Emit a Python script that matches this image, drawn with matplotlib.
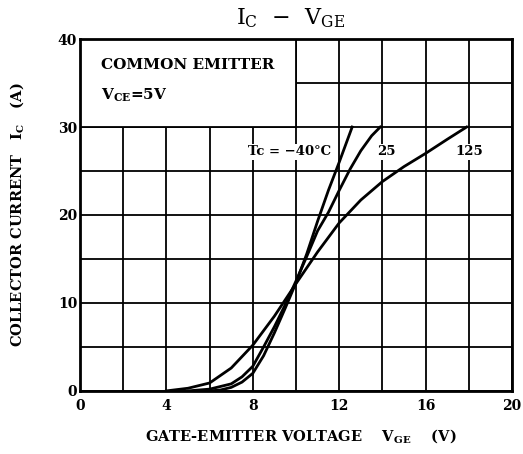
import matplotlib
matplotlib.use("Agg")
import matplotlib.pyplot as plt
from matplotlib.patches import Rectangle
from matplotlib.ticker import MultipleLocator

plt.rcParams['mathtext.fontset'] = 'custom'
plt.rcParams['mathtext.rm'] = 'DejaVu Serif'
plt.rcParams['mathtext.bf'] = 'DejaVu Serif:bold'
plt.rcParams['font.family'] = ['DejaVu Serif']

# Data (V_GE in V, I_C in A)
v_m40 = [6.0, 6.5, 7.0, 7.5, 8.0, 8.5, 9.0, 9.5, 10.0, 10.5, 11.0, 11.5, 12.0, 12.6]
i_m40 = [0.0, 0.1, 0.4, 1.0, 2.0, 4.0, 6.6, 9.4, 12.3, 15.6, 19.3, 22.8, 26.0, 30.0]

v_25 = [5.0, 6.0, 7.0, 7.5, 8.0, 8.5, 9.0, 9.5, 10.0, 10.5, 11.0, 11.5, 12.0, 12.5, 13.0, 13.5, 13.9]
i_25 = [0.0, 0.2, 0.8, 1.6, 2.8, 5.0, 7.3, 9.8, 12.5, 15.3, 18.2, 20.3, 22.8, 25.2, 27.3, 29.0, 30.0]

v_125 = [4.0, 5.0, 6.0, 7.0, 8.0, 9.0, 10.0, 11.0, 12.0, 13.0, 14.0, 15.0, 16.0, 17.0, 17.9]
i_125 = [0.0, 0.3, 0.9, 2.6, 5.2, 8.5, 12.2, 15.8, 19.1, 21.7, 23.8, 25.5, 27.0, 28.6, 30.0]

x_ticks = [0, 4, 8, 12, 16, 20]
y_ticks = [0, 10, 20, 30, 40]

fig = plt.figure(figsize=(5.23, 4.54), dpi=100)
ax = fig.add_axes([0.153, 0.139, 0.826, 0.775])
ax.set_xlim(0, 20)
ax.set_ylim(0, 40)
ax.set_xticks(x_ticks)
ax.set_yticks(y_ticks)
ax.xaxis.set_minor_locator(MultipleLocator(2))
ax.yaxis.set_minor_locator(MultipleLocator(5))
ax.grid(which='both', color='black', linewidth=1.3)
ax.set_axisbelow(True)
ax.tick_params(which='both', length=0, labelsize=10)
ax.tick_params(axis='x', pad=6)
ax.tick_params(axis='y', pad=2)
for lab in ax.get_xticklabels() + ax.get_yticklabels():
    lab.set_fontweight('bold')
for s in ax.spines.values():
    s.set_linewidth(2.0)

# info box (upper left region covers grid)
ax.add_patch(Rectangle((0, 30), 10, 10, facecolor='white', edgecolor='black',
                       linewidth=1.3, zorder=1.5))

ax.plot(v_m40, i_m40, color='black', linewidth=2.0, zorder=3)
ax.plot(v_25, i_25, color='black', linewidth=2.0, zorder=3)
ax.plot(v_125, i_125, color='black', linewidth=2.0, zorder=3)

ax.text(0.95, 37.0, 'COMMON EMITTER', fontsize=11, fontweight='bold', va='center', zorder=4)
ax.text(0.95, 33.6, r'V$_{\mathbf{CE}}$=5V', fontsize=11, fontweight='bold', va='center', zorder=4)

bb = dict(facecolor='white', edgecolor='none', pad=1.0)
ax.text(9.7, 27.2, 'Tc = −40°C', fontsize=9.5, fontweight='bold', ha='center', va='center',
        bbox=bb, zorder=2.5)
ax.text(14.2, 27.2, '25', fontsize=9.5, fontweight='bold', ha='center', va='center',
        bbox=bb, zorder=2.5)
ax.text(18.0, 27.2, '125', fontsize=9.5, fontweight='bold', ha='center', va='center',
        bbox=bb, zorder=2.5)

ax.set_xlabel(r'GATE-EMITTER VOLTAGE    V$_{\mathbf{GE}}$    (V)', fontsize=10.5,
              fontweight='bold', labelpad=12)
ax.xaxis.set_label_coords(0.512, -0.105)
ax.set_ylabel(r'COLLECTOR CURRENT   I$_{\mathbf{C}}$   (A)', fontsize=10.5,
              fontweight='bold', labelpad=22)
fig.text(0.555, 0.96, r'I$_{\mathrm{C}}$  −  V$_{\mathrm{GE}}$', fontsize=16,
         ha='center', va='center')

fig.savefig('out.png', dpi=100)
